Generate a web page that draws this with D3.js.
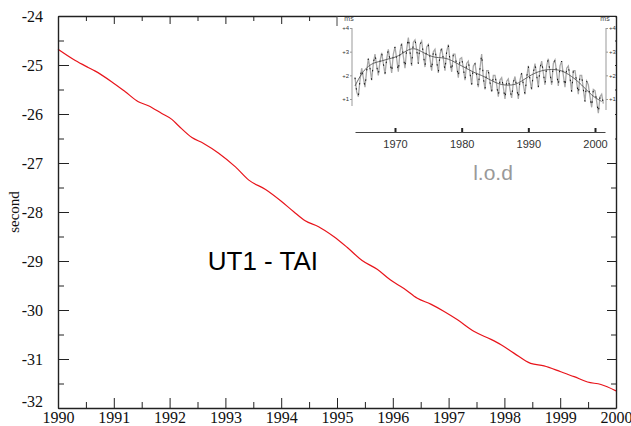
<!DOCTYPE html>
<html><head><meta charset="utf-8">
<script src="https://cdn.jsdelivr.net/npm/d3@7"></script>
<style>html,body{margin:0;padding:0;background:#fff;}svg{display:block;}</style>
</head><body>
<svg id="c" width="631" height="426"></svg>
<script>
// ---- Main series: UT1 - TAI (seconds) ----
const utYears = [1990.00,1990.31,1990.54,1990.66,1990.96,1991.20,1991.44,1991.62,1991.86,1992.04,1992.16,1992.40,1992.61,1992.88,1993.18,1993.42,1993.72,1993.99,1994.22,1994.43,1994.67,1994.94,1995.18,1995.45,1995.72,1995.96,1996.20,1996.44,1996.68,1996.92,1997.16,1997.46,1997.76,1997.94,1998.17,1998.47,1998.71,1999.01,1999.25,1999.49,1999.73,2000.00];
const utValues = [-24.68,-24.91,-25.05,-25.12,-25.34,-25.54,-25.75,-25.83,-25.99,-26.11,-26.24,-26.48,-26.60,-26.80,-27.08,-27.35,-27.54,-27.77,-27.99,-28.18,-28.30,-28.50,-28.72,-28.99,-29.17,-29.39,-29.56,-29.76,-29.88,-30.03,-30.20,-30.44,-30.60,-30.71,-30.88,-31.09,-31.14,-31.26,-31.36,-31.47,-31.52,-31.65];
const xTickYears = [1990,1991,1992,1993,1994,1995,1996,1997,1998,1999,2000];
const yTickValues = [-32,-31,-30,-29,-28,-27,-26,-25,-24];

// ---- Inset series: length of day (ms) ----
const lodStartYear = 1964;
const lodStep = 0.25;
const lodValues = [
 1.9,1.3,1.1,1.8, 2.3,1.9,1.5,2.2, 2.7,2.3,1.8,2.5, 2.9,2.4,2.0,2.6, 2.95,2.5,2.05,2.7,
 3.1,2.6,2.1,2.9, 3.2,2.7,2.15,3.0, 3.35,2.8,2.3,3.1, 3.6,3.0,2.4,3.4, 3.5,3.1,2.5,3.3,
 3.45,2.9,2.35,3.2, 3.3,2.7,2.2,3.0, 3.1,2.6,2.1,2.9, 3.15,2.7,2.2,3.0, 3.3,2.6,2.15,2.9,
 2.9,2.4,1.9,2.7, 2.75,2.3,1.8,2.5, 2.6,2.1,1.6,2.4, 2.5,2.0,1.5,2.3, 2.9,1.9,1.4,2.2,
 2.2,1.7,1.3,2.0, 2.0,1.6,1.1,1.8, 1.9,1.5,1.0,1.75, 1.85,1.4,1.05,1.7, 1.95,1.5,1.0,1.8,
 2.1,1.6,1.2,1.9, 2.4,1.8,1.4,2.1, 2.5,2.0,1.5,2.3, 2.6,2.1,1.6,2.4, 2.7,2.1,1.6,2.5,
 2.65,2.1,1.55,2.4, 2.6,2.0,1.5,2.3, 2.4,1.9,1.3,2.2, 2.2,1.7,1.2,2.0, 2.0,1.4,0.9,1.75,
 1.6,1.1,0.65,1.4, 1.35,0.9,0.4,1.1, 1.2,0.8];
const lodTrendYears = [1964,1965,1966,1967,1968,1969,1970,1971,1972,1973,1974,1975,1976,1977,1978,1979,1980,1981,1982,1983,1984,1985,1986,1987,1988,1989,1990,1991,1992,1993,1994,1995,1996,1997,1998,1999,2000,2001];
const lodTrend = [1.55,2.1,2.4,2.55,2.6,2.7,2.75,2.9,3.1,3.15,3.0,2.85,2.75,2.75,2.7,2.55,2.4,2.25,2.1,2.0,1.85,1.7,1.6,1.58,1.6,1.75,1.95,2.1,2.2,2.25,2.25,2.2,2.05,1.85,1.6,1.3,1.05,0.9];
const lodTickYears = [1970,1980,1990,2000];
const lodTickValues = [1,2,3,4];
const lodTickLabels = ["+1","+2","+3","+4"];

const svg = d3.select("#c");
const L = 58, R = 616, T = 16, B = 408;
const x = d3.scaleLinear().domain([1990, 2000]).range([L, R]);
const y = d3.scaleLinear().domain([-32, -24]).range([B, T]);
const axisColor = "#222";
const hyphenInt = d => String(d);

// Red curve
svg.append("path")
  .datum(utYears.map((yr, i) => [yr, utValues[i]]))
  .attr("fill", "none").attr("stroke", "#e8141b").attr("stroke-width", 1.2)
  .attr("d", d3.line().x(d => x(d[0])).y(d => y(d[1])).curve(d3.curveMonotoneX));

// Axes (inward ticks)
const serif = "'Liberation Serif','Times New Roman',serif";
function styleAxis(g) {
  g.selectAll("path.domain").attr("stroke", axisColor).attr("stroke-width", 1.4);
  g.selectAll(".tick line").attr("stroke", axisColor).attr("stroke-width", 1);
  g.selectAll("text").attr("font-family", serif).attr("font-size", 16).attr("fill", "#111");
}
const minorX = d3.range(1990.5, 2000, 1);
const minorY = d3.range(-31.5, -24, 1);

// bottom
const gB = svg.append("g").attr("transform", `translate(0,${B})`)
  .call(d3.axisBottom(x).tickValues(xTickYears).tickFormat(hyphenInt).tickSizeInner(-10).tickSizeOuter(0).tickPadding(13));
styleAxis(gB);
gB.selectAll(".tick text").attr("dy", "0.1em");
svg.append("g").attr("transform", `translate(0,${B})`)
  .call(d3.axisBottom(x).tickValues(minorX).tickFormat("").tickSizeInner(-6).tickSizeOuter(0))
  .call(g => { g.select(".domain").remove(); g.selectAll("line").attr("stroke", axisColor); });

// top
const gT = svg.append("g").attr("transform", `translate(0,${T})`)
  .call(d3.axisTop(x).tickValues(xTickYears).tickFormat("").tickSizeInner(-8).tickSizeOuter(0));
styleAxis(gT);
svg.append("g").attr("transform", `translate(0,${T})`)
  .call(d3.axisTop(x).tickValues(minorX).tickFormat("").tickSizeInner(-5).tickSizeOuter(0))
  .call(g => { g.select(".domain").remove(); g.selectAll("line").attr("stroke", axisColor); });

// left
const gL = svg.append("g").attr("transform", `translate(${L},0)`)
  .call(d3.axisLeft(y).tickValues(yTickValues).tickFormat(hyphenInt).tickSizeInner(-11).tickSizeOuter(0).tickPadding(15));
styleAxis(gL);
gL.selectAll(".tick text").filter(d => d === -32).attr("dy", "-0.1em");
svg.append("g").attr("transform", `translate(${L},0)`)
  .call(d3.axisLeft(y).tickValues(minorY).tickFormat("").tickSizeInner(-6).tickSizeOuter(0))
  .call(g => { g.select(".domain").remove(); g.selectAll("line").attr("stroke", axisColor); });

// right
const gR = svg.append("g").attr("transform", `translate(${R},0)`)
  .call(d3.axisRight(y).tickValues(yTickValues).tickFormat("").tickSizeInner(-9).tickSizeOuter(0));
styleAxis(gR);
svg.append("g").attr("transform", `translate(${R},0)`)
  .call(d3.axisRight(y).tickValues(minorY).tickFormat("").tickSizeInner(-5).tickSizeOuter(0))
  .call(g => { g.select(".domain").remove(); g.selectAll("line").attr("stroke", axisColor); });

// y label
svg.append("text").attr("transform", "translate(19,212) rotate(-90)")
  .attr("text-anchor", "middle").attr("font-family", serif).attr("font-size", 15)
  .attr("fill", "#111").text("second");

// Series label
svg.append("text").attr("x", 318).attr("y", 270).attr("text-anchor", "end")
  .attr("font-family", "'Liberation Sans',Arial,sans-serif").attr("font-size", 26)
  .attr("fill", "#000").text("UT1 - TAI");

// ---- Inset ----
const ins = svg.append("g");
ins.append("rect").attr("x", 337).attr("y", T + 1).attr("width", R - 337 - 1).attr("height", 140).attr("fill", "#fff");
ins.append("line").attr("x1", 337).attr("x2", 337).attr("y1", T).attr("y2", T + 10).attr("stroke", "#444").attr("stroke-width", 1);

const xi = d3.scaleLinear().domain([1964, 2001.5]).range([355, 605]);
const yi = d3.scaleLinear().domain([1, 4]).range([99, 28]);
const sans = "'Liberation Sans',Arial,sans-serif";

// inset y axes
const gIL = ins.append("g").attr("transform", "translate(352,0)")
  .call(d3.axisLeft(yi).tickValues(lodTickValues).tickFormat((d, i) => lodTickLabels[i]).tickSize(2).tickPadding(1));
gIL.select(".domain").attr("stroke", "#999").attr("d", "M0,28V106");
gIL.selectAll(".tick line").attr("stroke", "#999");
gIL.selectAll("text").attr("font-family", sans).attr("font-size", 6).attr("fill", "#333");
const gIR = ins.append("g").attr("transform", "translate(606,0)")
  .call(d3.axisRight(yi).tickValues(lodTickValues).tickFormat((d, i) => lodTickLabels[i]).tickSize(2).tickPadding(1));
gIR.select(".domain").attr("stroke", "#999").attr("d", "M0,28V110");
gIR.selectAll(".tick line").attr("stroke", "#999");
gIR.selectAll("text").attr("font-family", sans).attr("font-size", 6).attr("fill", "#333");
ins.append("text").attr("x", 349).attr("y", 21).attr("text-anchor", "middle").attr("font-family", sans).attr("font-size", 7).attr("fill", "#444").text("ms");
ins.append("text").attr("x", 605).attr("y", 21).attr("text-anchor", "middle").attr("font-family", sans).attr("font-size", 7).attr("fill", "#444").text("ms");

// inset data
const lodPts = lodValues.map((v, i) => [lodStartYear + i * lodStep, v]);
const lodLine = d3.line().x(d => xi(d[0])).y(d => yi(d[1]));
ins.append("path").datum(lodPts).attr("fill", "none").attr("stroke", "#a8a8a8").attr("stroke-width", 1.3).attr("d", lodLine);
ins.append("path").datum(lodPts).attr("fill", "none").attr("stroke", "#111").attr("stroke-width", 1)
  .attr("stroke-dasharray", "1.5,9").attr("d", lodLine);
ins.append("path").datum(lodTrendYears.map((yr, i) => [yr, lodTrend[i]]))
  .attr("fill", "none").attr("stroke", "#555").attr("stroke-width", 0.9)
  .attr("d", d3.line().x(d => xi(d[0])).y(d => yi(d[1])).curve(d3.curveBasis));

// inset time axis
const gIB = ins.append("g").attr("transform", "translate(0,132)")
  .call(d3.axisBottom(xi).tickValues(lodTickYears).tickFormat(d3.format("d")).tickSizeInner(-4).tickSizeOuter(0).tickPadding(8));
gIB.select(".domain").attr("stroke", "#444").attr("stroke-width", 1);
gIB.selectAll(".tick line").attr("stroke", "#222").attr("stroke-width", 2);
gIB.selectAll("text").attr("font-family", sans).attr("font-size", 11).attr("fill", "#333");

ins.append("text").attr("x", 493).attr("y", 180).attr("text-anchor", "middle")
  .attr("font-family", sans).attr("font-size", 21).attr("fill", "#999").text("l.o.d");
</script>
</body></html>
